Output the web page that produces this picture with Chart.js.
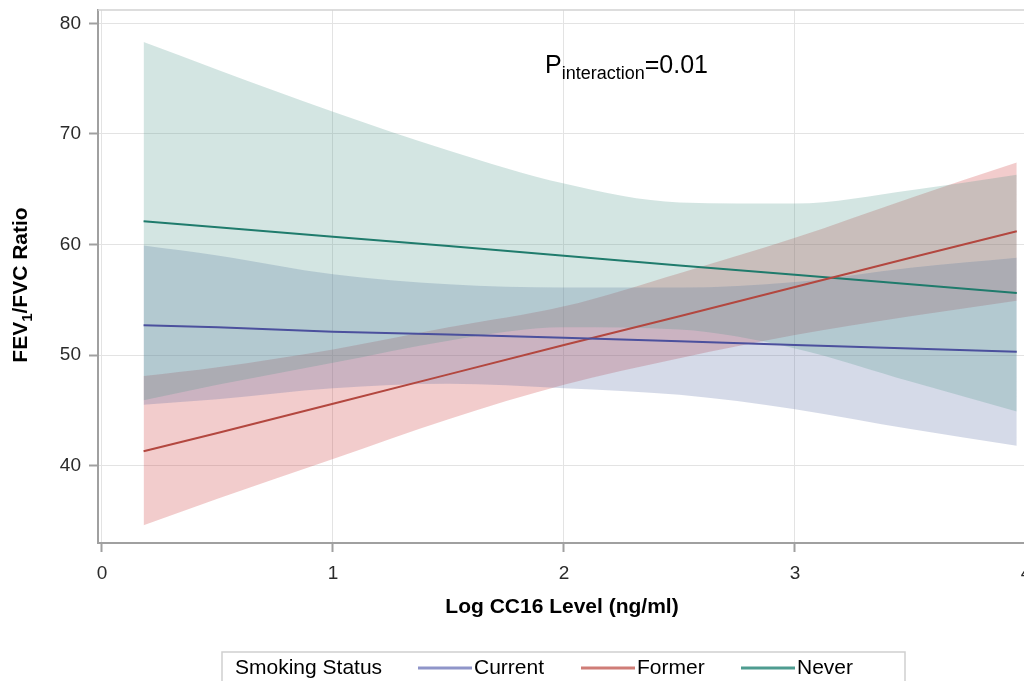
<!DOCTYPE html>
<html>
<head>
<meta charset="utf-8">
<script src="https://cdn.jsdelivr.net/npm/chart.js@4.4.0/dist/chart.umd.min.js"></script>
<style>
  html, body { margin: 0; padding: 0; background: #fff; overflow: hidden; }
  #wrap { width: 1040px; height: 681px; }
</style>
</head>
<body>
<div id="wrap"><canvas id="fevChart" width="1040" height="681"></canvas></div>
<script>
// values
const xPoints = [0.18, 0.5, 1, 1.5, 2, 2.5, 3, 3.5, 3.96];

const currentFit   = [52.7, 52.5, 52.1, 51.85, 51.55, 51.25, 50.9, 50.6, 50.3];
const currentUpper = [59.9, 59.0, 57.3, 56.4, 56.1, 56.1, 56.6, 57.9, 58.8];
const currentLower = [45.5, 46.0, 47.0, 47.4, 47.0, 46.4, 45.1, 43.3, 41.8];

const formerFit   = [41.3, 42.95, 45.6, 48.25, 50.9, 53.5, 56.15, 58.8, 61.2];
const formerUpper = [48.1, 48.9, 50.5, 52.5, 54.4, 57.4, 60.6, 64.2, 67.4];
const formerLower = [34.6, 37.0, 40.6, 44.2, 47.3, 49.7, 51.8, 53.5, 54.9];

const neverFit   = [62.1, 61.55, 60.7, 59.85, 58.97, 58.1, 57.25, 56.4, 55.6];
const neverUpper = [78.3, 75.8, 72.0, 68.5, 65.5, 63.8, 63.7, 64.9, 66.3];
const neverLower = [45.9, 47.3, 49.3, 51.3, 52.5, 52.3, 50.6, 47.6, 44.9];

const xTicks = [0, 1, 2, 3, 4];
const yTicks = [40, 50, 60, 70, 80];

const FONT = "'Liberation Sans', Arial, sans-serif";

const pts = ys => ys.map((y, i) => ({ x: xPoints[i], y: y }));

function fitLine(label, ys, color) {
  return { label, data: pts(ys), borderColor: color, borderWidth: 2,
           pointRadius: 0, fill: false, tension: 0 };
}
function bandEdge(ys, fillColor, isUpper) {
  return { data: pts(ys), borderColor: "transparent", borderWidth: 0,
           pointRadius: 0, cubicInterpolationMode: "monotone",
           backgroundColor: fillColor, fill: isUpper ? "+1" : false };
}

// extra text, frame and legend
const decorations = {
  id: "decorations",
  afterDraw(chart) {
    const ctx = chart.ctx;
    const a = chart.chartArea;
    ctx.save();

    // top / right frame
    ctx.strokeStyle = "#d2d2d2";
    ctx.lineWidth = 1.5;
    ctx.beginPath();
    ctx.moveTo(a.left, a.top);
    ctx.lineTo(a.right, a.top);
    ctx.lineTo(a.right, a.bottom);
    ctx.stroke();

    ctx.fillStyle = "#000";
    ctx.textBaseline = "alphabetic";

    // y title with subscript
    ctx.save();
    ctx.translate(27, 285);
    ctx.rotate(-Math.PI / 2);
    const parts = [["FEV", 21, 0], ["1", 15, 5], ["/FVC Ratio", 21, 0]];
    let total = 0;
    parts.forEach(p => { ctx.font = "bold " + p[1] + "px " + FONT; total += ctx.measureText(p[0]).width; });
    let px = -total / 2;
    parts.forEach(p => {
      ctx.font = "bold " + p[1] + "px " + FONT;
      ctx.fillText(p[0], px, p[2]);
      px += ctx.measureText(p[0]).width;
    });
    ctx.restore();

    // x title
    ctx.font = "bold 21px " + FONT;
    ctx.textAlign = "center";
    ctx.fillText("Log CC16 Level (ng/ml)", 562, 613);

    // P interaction note
    ctx.textAlign = "left";
    let nx = 545;
    ctx.font = "25px " + FONT;
    ctx.fillText("P", nx, 73);
    nx += ctx.measureText("P").width;
    ctx.font = "18px " + FONT;
    ctx.fillText("interaction", nx, 79);
    nx += ctx.measureText("interaction").width;
    ctx.font = "25px " + FONT;
    ctx.fillText("=0.01", nx, 73);

    // legend box
    ctx.strokeStyle = "#cfcfcf";
    ctx.lineWidth = 1.5;
    ctx.strokeRect(222, 652, 683, 60);
    ctx.font = "21px " + FONT;
    ctx.textBaseline = "middle";
    ctx.fillStyle = "#000";
    ctx.fillText("Smoking Status", 235, 668);
    const items = [["Current", "#8f95c9", 418], ["Former", "#cf7d77", 581], ["Never", "#4e9c90", 741]];
    items.forEach(it => {
      ctx.strokeStyle = it[1];
      ctx.lineWidth = 3;
      ctx.beginPath();
      ctx.moveTo(it[2], 668);
      ctx.lineTo(it[2] + 54, 668);
      ctx.stroke();
      ctx.fillText(it[0], it[2] + 56, 668);
    });
    ctx.restore();
  }
};

const ctx = document.getElementById("fevChart").getContext("2d");
new Chart(ctx, {
  type: "line",
  data: {
    // earlier entries are painted on top
    datasets: [
      fitLine("Current", currentFit, "#4b509d"),
      fitLine("Former", formerFit, "#b3473f"),
      fitLine("Never", neverFit, "#1f7b6c"),
      bandEdge(neverUpper, "rgba(79,151,139,0.25)", true),
      bandEdge(neverLower, "rgba(79,151,139,0.25)", false),
      bandEdge(currentUpper, "rgba(87,107,163,0.25)", true),
      bandEdge(currentLower, "rgba(87,107,163,0.25)", false),
      bandEdge(formerUpper, "rgba(203,51,51,0.25)", true),
      bandEdge(formerLower, "rgba(203,51,51,0.25)", false)
    ]
  },
  options: {
    responsive: false,
    animation: false,
    layout: { padding: { top: 10, right: 14, left: 0, bottom: 0 } },
    plugins: { legend: { display: false }, tooltip: { enabled: false } },
    scales: {
      x: {
        type: "linear",
        min: -0.0173,
        max: 4,
        afterBuildTicks: s => { s.ticks = xTicks.map(v => ({ value: v })); },
        afterFit: s => { s.height = 138; s.paddingLeft = 0; s.paddingRight = 0; },
        ticks: { font: { size: 19, family: FONT }, color: "#2b2b2b", padding: 10, maxRotation: 0, autoSkip: false },
        grid: { color: "#e3e3e3", tickColor: "#a0a0a0", tickLength: 9, tickWidth: 2 },
        border: { color: "#a0a0a0", width: 2 }
      },
      y: {
        min: 33.0,
        max: 81.2,
        afterBuildTicks: s => { s.ticks = yTicks.map(v => ({ value: v })); },
        afterFit: s => { s.width = 98; s.paddingTop = 0; s.paddingBottom = 0; },
        ticks: { font: { size: 19, family: FONT }, color: "#2b2b2b", padding: 8 },
        grid: { color: "#e3e3e3", tickColor: "#a0a0a0", tickLength: 9, tickWidth: 2 },
        border: { color: "#a0a0a0", width: 2 }
      }
    }
  },
  plugins: [decorations]
});
</script>
</body>
</html>
